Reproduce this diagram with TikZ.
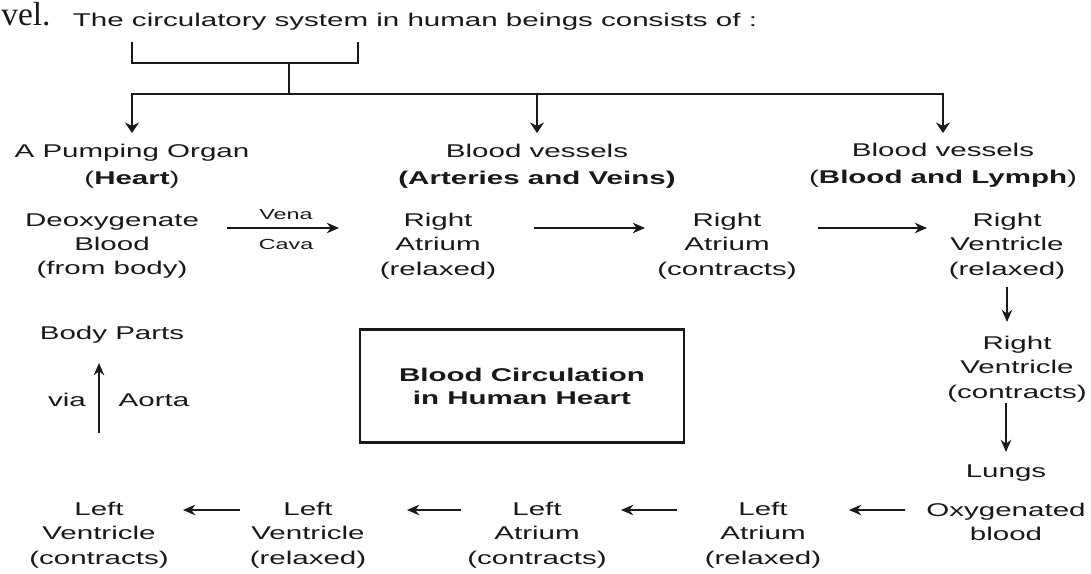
\documentclass[tikz,border=0pt]{standalone}
\usepackage{fontspec}
\setmainfont{Liberation Sans}[FakeStretch=1.6]
\newfontfamily\velserif{Liberation Serif}
\usetikzlibrary{arrows.meta, calc}
\definecolor{inkgray}{RGB}{25,25,25}
\tikzstyle{stage} = [align=center, inner sep=0pt, text=inkgray, font=\fontsize{10.5}{13.8}\selectfont]
\tikzstyle{heading} = [align=center, inner sep=0pt, text=inkgray, font=\fontsize{10.5}{15.3}\selectfont]
\tikzstyle{smalltext} = [inner sep=0pt, text=inkgray, font=\fontsize{8.3}{10}\selectfont]
\tikzstyle{titlebox} = [rectangle, draw=inkgray, line width=1.3pt, minimum width=6.48cm, minimum height=2.26cm, align=center, text=inkgray, font=\fontsize{10.5}{13}\selectfont\bfseries]
\tikzstyle{treeline} = [line width=1.1pt, draw=inkgray]
\tikzstyle{treearrow} = [line width=1.1pt, draw=inkgray, ->, >={Stealth[length=6pt,width=8pt]}]
\tikzstyle{flowarrow} = [line width=0.9pt, draw=inkgray, ->, >={Stealth[length=7pt,width=6pt]}]

\begin{document}
\begin{tikzpicture}[x=0.02cm, y=-0.02cm]

\path[use as bounding box, fill=white] (0,0) rectangle (1091,574);

% Title
\node[inner sep=0pt, anchor=base west, text=inkgray, font=\velserif\fontsize{19}{23}\selectfont] (vel) at (1,26) {vel.};
\node[stage] (title) at (415,22) {The circulatory system in human beings consists of :};

% Three parts
\node[heading] (h1) at (132,166) {A Pumping Organ\\(\textbf{Heart})};
\node[heading] (h2) at (537,166) {Blood vessels\\\textbf{(Arteries and Veins)}};
\node[heading] (h3) at (943,165) {Blood vessels\\(\textbf{Blood and Lymph})};

% Bracket and branches
\coordinate (brl) at (132,42);
\coordinate (brr) at (358,42);
\coordinate (stem) at (289,63);
\coordinate (split) at (289,94);
\draw[treeline] (brl) |- (stem) -| (brr);
\draw[treeline] (stem) -- (split);
\draw[treearrow, shorten >=0.66cm] (split) -| (h1.center);
\draw[treearrow, shorten >=0.64cm] (split) -| (h3.center);
\draw[treearrow, shorten >=0.66cm] (split -| h2.center) -- (h2.center);

% Right side of the heart
\node[stage] (deoxy) at (112,246) {Deoxygenate\\Blood\\(from body)};
\node[stage] (ra1) at (438,246) {Right\\Atrium\\(relaxed)};
\node[stage] (rac) at (727,246) {Right\\Atrium\\(contracts)};
\node[stage] (rvr) at (1007,246) {Right\\Ventricle\\(relaxed)};
\node[stage] (rvc) at (1017,369) {Right\\Ventricle\\(contracts)};
\node[stage] (lungs) at (1006,473) {Lungs};
\node[stage] (oxy) at (1006,522) {Oxygenated\\blood};

\node[smalltext] (vena) at (286,215) {Vena};
\node[smalltext] (cava) at (286,244) {Cava};

% Left side of the heart
\node[stage] (lar) at (763,535) {Left\\Atrium\\(relaxed)};
\node[stage] (lac) at (537,535) {Left\\Atrium\\(contracts)};
\node[stage] (lvr) at (308,535) {Left\\Ventricle\\(relaxed)};
\node[stage] (lvc) at (99,535) {Left\\Ventricle\\(contracts)};
\node[stage] (body) at (112,335) {Body Parts};
\node[stage] (via) at (67,400) {via};
\node[stage] (aorta) at (154,400) {Aorta};

% Caption box
\node[titlebox] (caption) at (522,386) {Blood Circulation\\in Human Heart};

% Flow arrows
\draw[flowarrow, shorten <=2.30cm, shorten >=1.98cm] ([yshift=0.36cm]deoxy.center) -- ([yshift=0.36cm]ra1.center);
\draw[flowarrow, shorten <=1.92cm, shorten >=1.64cm] ([yshift=0.36cm]ra1.center) -- ([yshift=0.36cm]rac.center);
\draw[flowarrow, shorten <=1.82cm, shorten >=1.60cm] ([yshift=0.36cm]rac.center) -- ([yshift=0.36cm]rvr.center);
\draw[flowarrow, shorten <=0.82cm, shorten >=0.94cm] (rvr.center) -- (rvr.center |- rvc.center);
\draw[flowarrow, shorten <=0.68cm, shorten >=0.42cm] (rvc.center -| lungs.center) -- (lungs.center);
\draw[flowarrow, shorten <=2.02cm, shorten >=1.72cm] ([yshift=0.24cm]oxy.center) -- ([yshift=0.5cm]lar.center);
\draw[flowarrow, shorten <=1.72cm, shorten >=1.68cm] ([yshift=0.5cm]lar.center) -- ([yshift=0.5cm]lac.center);
\draw[flowarrow, shorten <=1.52cm, shorten >=1.98cm] ([yshift=0.5cm]lac.center) -- ([yshift=0.5cm]lvr.center);
\draw[flowarrow, shorten <=1.36cm, shorten >=1.68cm] ([yshift=0.5cm]lvr.center) -- ([yshift=0.5cm]lvc.center);
\draw[flowarrow, shorten <=2.04cm, shorten >=0.56cm] (lvc.center) -- (lvc.center |- body.center);

\end{tikzpicture}
\end{document}
